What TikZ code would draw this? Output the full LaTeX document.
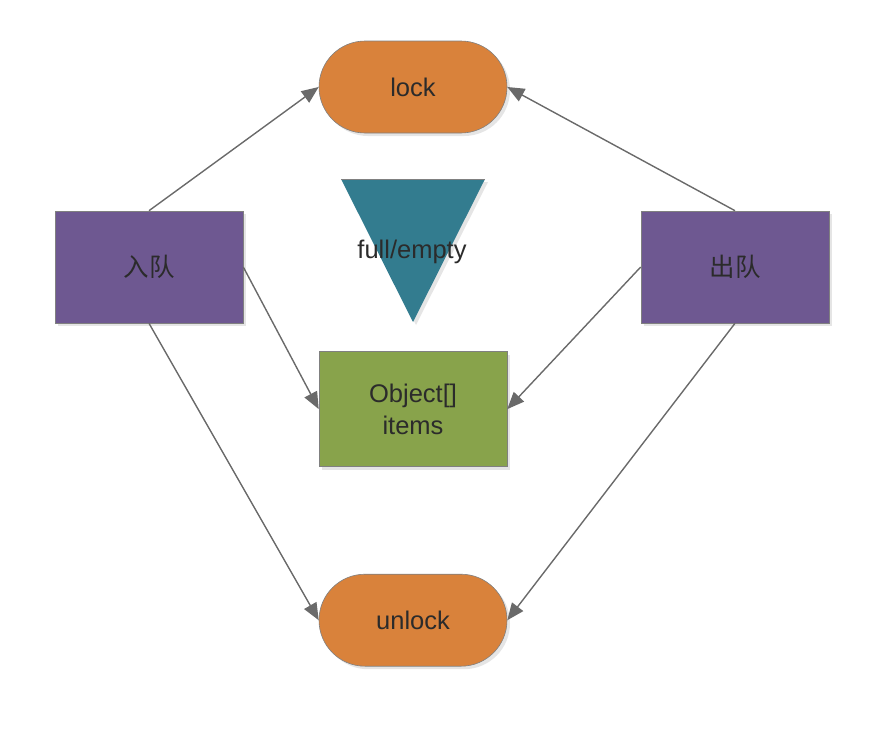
\documentclass[tikz,border=0pt]{standalone}
\usepackage{fontspec}
\setmainfont{Liberation Sans}
\newfontfamily\cjk{Noto Sans CJK SC}
\usepackage{tikz}
\usetikzlibrary{arrows.meta,positioning,shapes.misc,shadows}

\definecolor{qorange}{HTML}{D9823B}
\definecolor{qpurple}{HTML}{6E5891}
\definecolor{qgreen}{HTML}{88A34B}
\definecolor{qteal}{HTML}{337C8F}
\definecolor{qline}{HTML}{6A6A6A}
\definecolor{qtext}{HTML}{2B2B2B}

\begin{document}
\begin{tikzpicture}[
    x=1pt, y=-1pt,
    font=\fontsize{25.5}{32}\selectfont,
    blk/.style={draw=gray, line width=0.6pt, fill=#1, text=qtext, align=center,
      minimum width=188pt, inner sep=0pt,
      drop shadow={shadow xshift=3pt, shadow yshift=-3pt, fill=black!25, opacity=0.4}},
    guard/.style={blk=qorange, rounded rectangle, minimum height=92pt},
    queue/.style={blk=qpurple, rectangle, minimum height=112pt},
    store/.style={blk=qgreen, rectangle, minimum height=115pt},
    arr/.style={-{Triangle[length=17pt, width=14pt]}, draw=qline, line width=1.4pt}
  ]
  \useasboundingbox (0,0) rectangle (874,728);
  \node[guard] (lock) at (413,87) {lock};
  \node[store, below=218pt of lock] (items) {Object[]\\items};
  \node[guard, below=107pt of items] (unlock) {unlock};
  \node[queue] (enq) at (149,267) {\cjk 入队};
  \node[queue] (deq) at (735,267) {\cjk 出队};
  % full/empty flag
  \fill[black!25, opacity=0.4] (344,182) -- (488,182) -- (416,325) -- cycle;
  \fill[qteal] (341,179) -- (485,179) -- (413,322) -- cycle;
  \draw[gray, line width=0.6pt] (341,179) -- (485,179);
  \node[text=qtext] (flag) at (412,252) {full/empty};
  \draw[arr] (enq.north) -- (lock.west);
  \draw[arr] (deq.north) -- (lock.east);
  \draw[arr] (enq.east) -- (items.west);
  \draw[arr] (deq.west) -- (items.east);
  \draw[arr] (enq.south) -- (unlock.west);
  \draw[arr] (deq.south) -- (unlock.east);
\end{tikzpicture}
\end{document}
